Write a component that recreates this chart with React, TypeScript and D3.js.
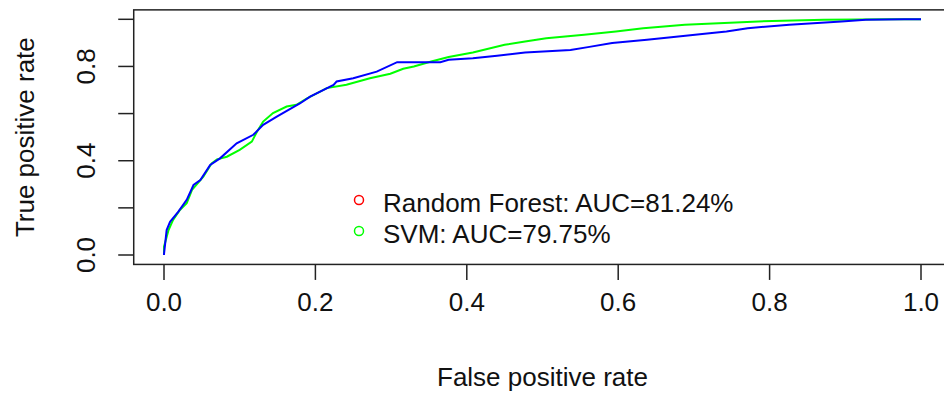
import React from "react";
import * as d3 from "d3";

const xTicks = [0, 0.2, 0.4, 0.6, 0.8, 1.0];
const xTickLabels = ["0.0", "0.2", "0.4", "0.6", "0.8", "1.0"];
const yTicks = [0, 0.2, 0.4, 0.6, 0.8, 1.0];
const yTickLabeled = [0, 0.4, 0.8];
const yTickLabels = ["0.0", "0.4", "0.8"];

const rfFpr = [0, 0, 0.0035, 0.008, 0.019, 0.03, 0.039, 0.048, 0.061, 0.074, 0.096, 0.118, 0.131, 0.149, 0.18, 0.193, 0.224, 0.228, 0.25, 0.281, 0.308, 0.365, 0.376, 0.408, 0.44, 0.477, 0.537, 0.56, 0.592, 0.638, 0.67, 0.711, 0.743, 0.771, 0.826, 0.895, 0.927, 0.978, 1.0];
const rfTpr = [0, 0.004, 0.106, 0.141, 0.184, 0.234, 0.297, 0.318, 0.382, 0.41, 0.474, 0.51, 0.552, 0.587, 0.644, 0.672, 0.722, 0.736, 0.75, 0.778, 0.818, 0.818, 0.828, 0.835, 0.845, 0.859, 0.87, 0.882, 0.899, 0.913, 0.924, 0.938, 0.948, 0.962, 0.977, 0.991, 0.998, 1.0, 1.0];

const svmFpr = [0, 0, 0.006, 0.012, 0.021, 0.03, 0.037, 0.052, 0.063, 0.07, 0.083, 0.1, 0.116, 0.123, 0.131, 0.144, 0.162, 0.175, 0.189, 0.215, 0.241, 0.272, 0.299, 0.316, 0.33, 0.353, 0.376, 0.408, 0.45, 0.477, 0.505, 0.555, 0.597, 0.633, 0.688, 0.785, 0.872, 0.959, 1.0];
const svmTpr = [0, 0.035, 0.106, 0.149, 0.191, 0.22, 0.276, 0.332, 0.389, 0.406, 0.417, 0.446, 0.481, 0.524, 0.566, 0.602, 0.63, 0.637, 0.665, 0.708, 0.722, 0.75, 0.769, 0.79, 0.8, 0.821, 0.84, 0.859, 0.892, 0.906, 0.92, 0.934, 0.948, 0.962, 0.977, 0.991, 0.998, 1.0, 1.0];

const legendLabels = ["Random Forest: AUC=81.24%", "SVM: AUC=79.75%"];
const legendColors = ["#ff0000", "#00ff00"];

const W = 944;
const H = 394;
const FONT = "'Liberation Sans', Arial, sans-serif";

export default function App() {
  const x = d3.scaleLinear().domain([0, 1]).range([164, 921]);
  const y = d3.scaleLinear().domain([0, 1]).range([255, 19.3]);
  const line = d3
    .line<[number, number]>()
    .x((d) => x(d[0]))
    .y((d) => y(d[1]))
    .curve(d3.curveLinear);

  const rf: [number, number][] = rfFpr.map((f, i) => [f, rfTpr[i]]);
  const svm: [number, number][] = svmFpr.map((f, i) => [f, svmTpr[i]]);

  const bx0 = x(-0.04);
  const bx1 = x(1.04);
  const by0 = y(1.04);
  const by1 = y(-0.04);

  return (
    <svg
      width={W}
      height={H}
      style={{ position: "absolute", left: 0, top: 0, background: "#fff" }}
      fontFamily={FONT}
    >
      <rect x={0} y={0} width={W} height={H} fill="#fff" />
      <path d={line(svm) || ""} fill="none" stroke="#00ff00" strokeWidth={2} />
      <path d={line(rf) || ""} fill="none" stroke="#0000ff" strokeWidth={2} />
      <rect
        x={bx0}
        y={by0}
        width={bx1 - bx0}
        height={by1 - by0}
        fill="none"
        stroke="#222"
        strokeWidth={1.5}
      />
      {xTicks.map((t, i) => (
        <g key={"xt" + i}>
          <line x1={x(t)} x2={x(t)} y1={by1} y2={by1 + 15.5} stroke="#222" strokeWidth={1.5} />
          <text x={x(t)} y={311} textAnchor="middle" fontSize={26} fill="#111">
            {xTickLabels[i]}
          </text>
        </g>
      ))}
      {yTicks.map((t, i) => (
        <line key={"yt" + i} x1={bx0 - 15.5} x2={bx0} y1={y(t)} y2={y(t)} stroke="#222" strokeWidth={1.5} />
      ))}
      {yTickLabeled.map((t, i) => (
        <text
          key={"yl" + i}
          transform={`translate(95,${y(t)}) rotate(-90)`}
          textAnchor="middle"
          fontSize={26}
          fill="#111"
        >
          {yTickLabels[i]}
        </text>
      ))}
      <text x={(bx0 + bx1) / 2} y={386} textAnchor="middle" fontSize={26} fill="#111">
        False positive rate
      </text>
      <text
        transform={`translate(34,${(by0 + by1) / 2}) rotate(-90)`}
        textAnchor="middle"
        fontSize={26}
        fill="#111"
      >
        True positive rate
      </text>
      {legendLabels.map((l, i) => (
        <g key={"lg" + i}>
          <circle cx={359} cy={200 + i * 31} r={4.5} fill="none" stroke={legendColors[i]} strokeWidth={1.5} />
          <text x={383} y={211.5 + i * 31} fontSize={26} fill="#111">
            {l}
          </text>
        </g>
      ))}
    </svg>
  );
}
